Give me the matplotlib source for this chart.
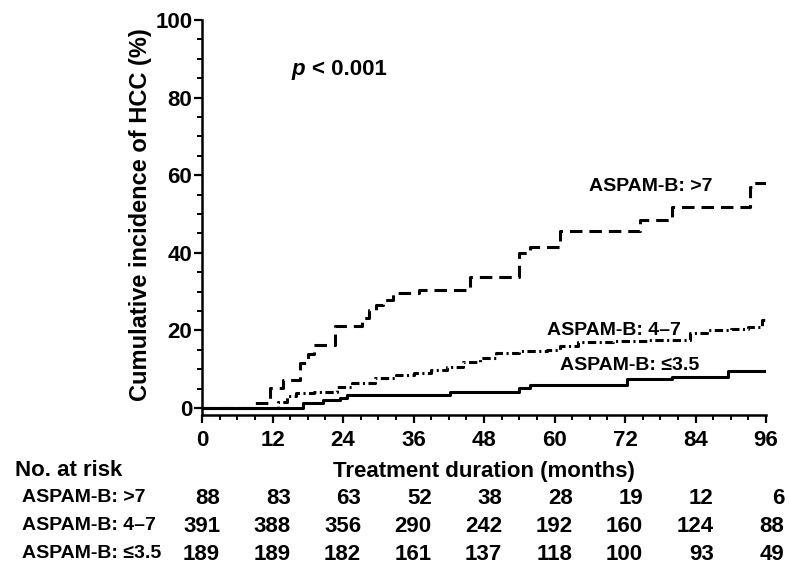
import matplotlib
matplotlib.use("Agg")
import matplotlib.pyplot as plt
from matplotlib.ticker import MultipleLocator
from matplotlib.transforms import blended_transform_factory

plt.rcParams['font.family'] = ['Liberation Sans', 'DejaVu Sans']
plt.rcParams['font.weight'] = 'bold'
plt.rcParams['lines.scale_dashes'] = False

# cumulative incidence step curves (months, %)
high_t = [0, 8.5, 11.6, 13.8, 16.7, 18.0, 19.0, 22.6, 27.2, 28.5, 29.6, 30.8, 32.5,
          37.0, 45.6, 54.0, 55.8, 61.0, 74.5, 80.0, 93.3, 94.0, 96]
high_y = [0, 1.2, 5.2, 7.2, 11.6, 14.0, 16.2, 21.1, 23.2, 25.3, 26.5, 27.8, 29.6,
          30.4, 33.8, 40.0, 41.5, 45.7, 48.5, 51.8, 57.0, 58.0, 58.0]

mid_t = [0, 13.0, 14.5, 16.0, 19.0, 23.0, 25.5, 29.5, 33.0, 36.0, 39.0, 41.7, 44.5,
         47.3, 50.0, 54.0, 58.7, 61.0, 64.0, 70.0, 76.0, 83.0, 86.0, 90.0, 93.0, 95.3, 96]
mid_y = [0, 1.5, 3.0, 3.8, 4.1, 5.4, 6.4, 7.7, 8.4, 9.0, 9.8, 10.6, 11.8,
         12.9, 14.2, 14.6, 15.0, 16.0, 17.0, 17.2, 17.5, 19.3, 20.0, 20.4, 21.0, 22.7, 23.0]

low_t = [0, 17.2, 20.6, 23.5, 24.7, 42.2, 54.0, 55.8, 72.3, 80.0, 89.6, 96]
low_y = [0, 1.3, 2.0, 2.6, 3.3, 4.1, 5.1, 5.9, 7.4, 8.0, 9.5, 9.5]

# number at risk table
risk_times = [0, 12, 24, 36, 48, 60, 72, 84, 96]
group_names = ["ASPAM-B: >7", "ASPAM-B: 4\u20137", "ASPAM-B: \u22643.5"]
risk_high = [88, 83, 63, 52, 38, 28, 19, 12, 6]
risk_mid = [391, 388, 356, 290, 242, 192, 160, 124, 88]
risk_low = [189, 189, 182, 161, 137, 118, 100, 93, 49]

W, H = 789, 568
fig = plt.figure(figsize=(W / 100, H / 100), dpi=100)
ax = fig.add_axes([202 / W, 1 - 415 / H, (766 - 202) / W, (415 - 20) / H])

ax.step(high_t, high_y, where='post', color='black', lw=2.2, dashes=(9, 5))
ax.step(mid_t, mid_y, where='post', color='black', lw=2.2, dashes=(6, 2.5, 1.5, 2.5))
ax.step(low_t, low_y, where='post', color='black', lw=2.2)

ax.set_xlim(0, 96)
ax.set_ylim(-1.8, 100)
ax.xaxis.set_major_locator(MultipleLocator(12))
ax.xaxis.set_minor_locator(MultipleLocator(3))
ax.yaxis.set_major_locator(MultipleLocator(20))
ax.yaxis.set_minor_locator(MultipleLocator(5))
ax.spines['top'].set_visible(False)
ax.spines['right'].set_visible(False)
for s in ('left', 'bottom'):
    ax.spines[s].set_linewidth(1.8)
ax.tick_params(which='major', length=5.5, width=1.6, labelsize=16)
ax.tick_params(which='minor', length=3.5, width=1.4)
ax.tick_params(axis='y', pad=1.5)
ax.tick_params(axis='x', pad=5)

fig.text(140 / W, 1 - 215 / H, "Cumulative incidence of HCC (%)", rotation=90,
         ha='center', va='center', fontsize=17)

# p value
ax.text(15.2, 87.3, "p", fontsize=16, style='italic', ha='left', va='center')
ax.text(18.7, 87.3, "< 0.001", fontsize=16, ha='left', va='center')

# curve labels
ax.text(65.9, 57.2, group_names[0], fontsize=14, ha='left', va='center')
ax.text(58.7, 20.1, group_names[1], fontsize=14, ha='left', va='center')
ax.text(61.0, 11.0, group_names[2], fontsize=14, ha='left', va='center')

# table below
fig.text(15 / W, 1 - 471 / H, "No. at risk", fontsize=16, ha='left', va='center')
fig.text(484 / W, 1 - 471 / H, "Treatment duration (months)", fontsize=16,
         ha='center', va='center')

trans = blended_transform_factory(ax.transData, fig.transFigure)
row_y = [498, 526, 554]
for name, counts, yp in zip(group_names, [risk_high, risk_mid, risk_low], row_y):
    fig.text(22 / W, 1 - yp / H, name, fontsize=14, ha='left', va='center')
    for t, n in zip(risk_times, counts):
        ax.text(t + 3.1, 1 - yp / H, str(n), transform=trans, fontsize=16,
                ha='right', va='center', clip_on=False)

fig.savefig("out.png", dpi=100)
